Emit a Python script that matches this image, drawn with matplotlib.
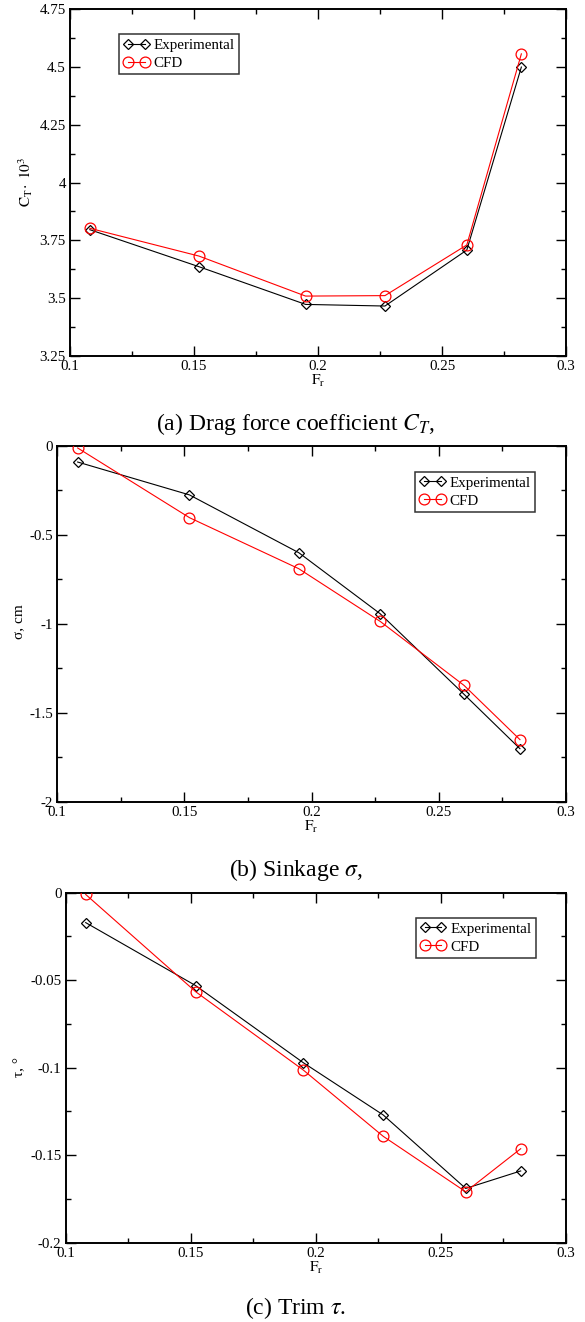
import matplotlib
matplotlib.use("Agg")
import matplotlib.pyplot as plt
import matplotlib.ticker as mticker

# Froude numbers of the test runs
froude = [0.108, 0.152, 0.195, 0.227, 0.260, 0.282]

# total resistance coefficient, x 10^3
ct_exp = [3.796, 3.636, 3.473, 3.466, 3.708, 4.499]
ct_cfd = [3.802, 3.682, 3.509, 3.511, 3.730, 4.556]

# sinkage, cm
sink_exp = [-0.090, -0.275, -0.600, -0.943, -1.396, -1.702]
sink_cfd = [-0.011, -0.403, -0.690, -0.986, -1.346, -1.651]

# trim, degrees
trim_exp = [-0.0171, -0.0531, -0.0971, -0.1270, -0.1690, -0.1590]
trim_cfd = [-0.0010, -0.0566, -0.1013, -0.1392, -0.1709, -0.1463]

W, H = 585, 1322

plt.rcParams["font.family"] = ["Liberation Serif", "DejaVu Serif"]
plt.rcParams["mathtext.fontset"] = "stix"
plt.rcParams["axes.unicode_minus"] = False

fig = plt.figure(figsize=(W / 100, H / 100), dpi=100)


def px_axes(x0, y0, x1, y1):
    return fig.add_axes([x0 / W, 1 - y1 / H, (x1 - x0) / W, (y1 - y0) / H])


def style(ax, ylim, ymaj, ymin):
    ax.set_xlim(0.1, 0.3)
    ax.set_ylim(*ylim)
    ax.xaxis.set_major_locator(mticker.MultipleLocator(0.05))
    ax.xaxis.set_minor_locator(mticker.MultipleLocator(0.025))
    ax.yaxis.set_major_locator(mticker.MultipleLocator(ymaj))
    ax.yaxis.set_minor_locator(mticker.MultipleLocator(ymin))
    ax.xaxis.set_major_formatter(mticker.FormatStrFormatter("%g"))
    ax.yaxis.set_major_formatter(mticker.FormatStrFormatter("%g"))
    ax.tick_params(which="both", direction="in", top=True, right=True,
                   labelsize=10.8, width=1.0, pad=3)
    ax.tick_params(which="major", length=7)
    ax.tick_params(which="minor", length=3.5)
    for sp in ax.spines.values():
        sp.set_linewidth(1.4)


def draw(ax, exp, cfd, legend_anchor, legend_loc):
    ax.plot(froude, exp, color="black", linewidth=0.8, marker="D",
            markersize=5.4, markerfacecolor="none", markeredgecolor="black",
            markeredgewidth=0.9, label="Experimental", zorder=3)
    ax.plot(froude, cfd, color="red", linewidth=0.8, marker="o",
            markersize=7.8, markerfacecolor="none", markeredgecolor="red",
            markeredgewidth=0.9, label="CFD", zorder=3)
    leg = ax.legend(loc=legend_loc, bbox_to_anchor=legend_anchor,
                    borderaxespad=0, fontsize=10.8, numpoints=2,
                    handlelength=1.7, handletextpad=0.3, labelspacing=0.3,
                    borderpad=0.3, fancybox=False, framealpha=1,
                    edgecolor="#333333")
    leg.get_frame().set_linewidth(1.1)


def text_px(x, y, s, **kw):
    fig.text(x / W, 1 - y / H, s, **kw)


# (a) drag coefficient
ax1 = px_axes(70, 9, 566, 356)
style(ax1, (3.25, 4.75), 0.25, 0.125)
draw(ax1, ct_exp, ct_cfd, (0.099, 0.928), "upper left")
text_px(318, 381, r"$\mathrm{F_r}$", ha="center", va="center", fontsize=11)
text_px(26, 182, r"$\mathrm{C_T\!\cdot\ 10^3}$", ha="center", va="center",
        rotation=90, fontsize=11)
text_px(296, 430, r"(a) Drag force coefficient $C_T$,", ha="center",
        va="baseline", fontsize=17)

# (b) sinkage
ax2 = px_axes(57.3, 446, 565.7, 801.7)
style(ax2, (-2, 0), 0.5, 0.25)
draw(ax2, sink_exp, sink_cfd, (0.940, 0.928), "upper right")
text_px(311.5, 827, r"$\mathrm{F_r}$", ha="center", va="center", fontsize=11)
text_px(20, 622, "σ, cm", ha="center", va="center", rotation=90, fontsize=11)
text_px(296, 876, r"(b) Sinkage $\sigma$,", ha="center", va="baseline",
        fontsize=17)

# (c) trim
ax3 = px_axes(65.7, 892.7, 565.7, 1242.7)
style(ax3, (-0.2, 0), 0.05, 0.025)
draw(ax3, trim_exp, trim_cfd, (0.940, 0.929), "upper right")
text_px(315.7, 1268, r"$\mathrm{F_r}$", ha="center", va="center", fontsize=11)
text_px(20, 1067, "τ, °", ha="center", va="center", rotation=90, fontsize=11)
text_px(296, 1314, r"(c) Trim $\tau$.", ha="center", va="baseline",
        fontsize=17)

fig.savefig("out.png", dpi=100, facecolor="white")
